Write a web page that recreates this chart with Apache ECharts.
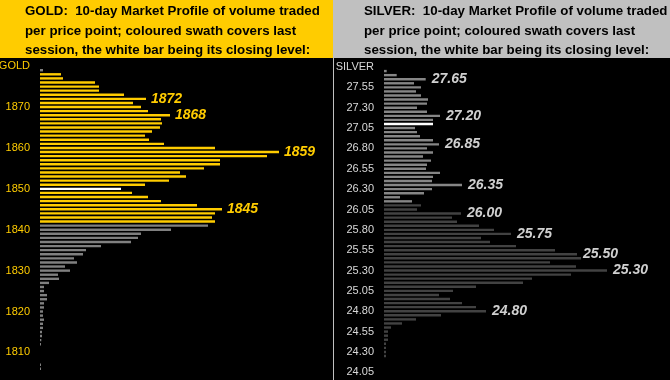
<!DOCTYPE html>
<html>
<head>
<meta charset="utf-8">
<script src="https://cdn.jsdelivr.net/npm/echarts@6/dist/echarts.min.js"></script>
<style>html,body{margin:0;padding:0;background:#000;}#c{width:670px;height:380px;}</style>
</head>
<body>
<div id="c"></div>
<script>
// ---- GOLD: prices from 1881 (top) down to 1804 (bottom), $1 per row ----
var goldTop = 1881;
var goldVolume = [
  0,0,3,21,23,55,59,59,84,106,
  93,101,108,130,121,122,120,112,105,109,
  124,175,239,227,180,180,164,140,146,129,
  105,81,92,108,121,157,182,175,172,175,
  168,131,101,98,91,61,46,43,34,37,
  25,30,18,19,9,4,4,7,7,4,
  4,3,3,4,3,3,2,2,1.3,1,
  0,0,0,0,1,1,0,0
];
var goldSessionHigh = 1878, goldSessionLow = 1842, goldClose = 1850;
var goldMarked = ['1872','1868','1859','1845'];
var goldTitle = ['GOLD:  10-day Market Profile of volume traded','per price point; coloured swath covers last','session, the white bar being its closing level:'];

// ---- SILVER: prices from 27.85 (top) down to 24.00 (bottom), $0.05 per row ----
var silverTopCents = 2785;
var silverVolume = [
  0,0,2.7,12.7,41.7,30,37,32,37,44,
  43,33,43,56,49,49,31,33,36,49,
  55,43,49,39,47,43,42,56,49,48,
  78,48,40,16,28,37,33,77,68,73,
  95,110,127,97,106,132,171,193,197,166,
  192,223,187,148,139,92,69,55,66,78,
  92,102,57,32,18,7,4,4,4,2,
  2,2,2,0,0,0,0,0
];
var silverSessionHigh = 27.75, silverSessionLow = 26.15, silverClose = 27.10;
var silverMarked = ['27.65','27.20','26.85','26.35','26.00','25.75','25.50','25.30','24.80'];
var silverTitle = ['SILVER:  10-day Market Profile of volume traded','per price point; coloured swath covers last','session, the white bar being its closing level:'];

var goldCats = goldVolume.map(function(v,i){ return String(goldTop - i); });
var silverCats = silverVolume.map(function(v,i){ return ((silverTopCents - 5*i)/100).toFixed(2); });

var FONT = 'Liberation Sans, Arial, sans-serif';
var GOLDC = '#FFCC00';

var chart = echarts.init(document.getElementById('c'), null, {renderer:'canvas'});

function titleTexts(lines, x){
  return lines.map(function(t, i){
    return {type:'text', left:x, top: 5 + i*19.5, z:10,
      style:{text:t, font:'bold 13.3px ' + FONT, fill:'#000'}};
  });
}

var graphics = [
  {type:'rect', shape:{x:0,y:0,width:333,height:58}, style:{fill:GOLDC}, z:5},
  {type:'rect', shape:{x:333,y:0,width:337,height:58}, style:{fill:'#C0C0C0'}, z:5},
  {type:'line', shape:{x1:333.5,y1:58,x2:333.5,y2:380}, style:{stroke:'#C0C0C0', lineWidth:1}, z:5}
].concat(titleTexts(goldTitle, 25)).concat(titleTexts(silverTitle, 364));

chart.setOption({
  backgroundColor:'#000',
  animation:false,
  graphic: graphics,
  grid:[
    {left:40, width:293, top:60, bottom:1, containLabel:false, outerBoundsMode:'none'},
    {left:384, width:286, top:60.9, bottom:1.6, containLabel:false, outerBoundsMode:'none'}
  ],
  xAxis:[
    {type:'value', gridIndex:0, min:0, max:293, show:false},
    {type:'value', gridIndex:1, min:0, max:286, show:false}
  ],
  yAxis:[
    {type:'category', gridIndex:0, data:goldCats, inverse:true,
      axisLine:{show:false}, axisTick:{show:false}, splitLine:{show:false},
      axisLabel:{
        interval:function(i, v){ return (+v) % 10 === 0; },
        formatter:function(v){ return v === '1880' ? 'GOLD' : v; },
        color:GOLDC, fontSize:11, fontFamily:FONT, margin:10
      }},
    {type:'category', gridIndex:1, data:silverCats, inverse:true,
      axisLine:{show:false}, axisTick:{show:false}, splitLine:{show:false},
      axisLabel:{
        interval:function(i, v){ return Math.round(+v*100 - 2405) % 25 === 0; },
        formatter:function(v){ return v === '27.80' ? 'SILVER' : v; },
        color:'#D8D8D8', fontSize:11, fontFamily:FONT, margin:10
      }}
  ],
  series:[
    {type:'bar', xAxisIndex:0, yAxisIndex:0, data:goldVolume, barWidth:2.4,
      itemStyle:{color:function(p){
        var pr = +p.name;
        if (pr === goldClose) return '#FFFFFF';
        if (pr >= goldSessionLow && pr <= goldSessionHigh) return GOLDC;
        return '#808080';
      }},
      label:{show:true, position:'right', distance:5,
        formatter:function(p){ return goldMarked.indexOf(p.name) >= 0 ? p.name : ''; },
        color:GOLDC, fontSize:14, fontStyle:'italic', fontWeight:'bold', fontFamily:FONT}
    },
    {type:'bar', xAxisIndex:1, yAxisIndex:1, data:silverVolume, barWidth:2.4,
      itemStyle:{color:function(p){
        var pr = +p.name;
        if (Math.abs(pr - silverClose) < 1e-6) return '#FFFFFF';
        if (pr >= silverSessionLow - 1e-6 && pr <= silverSessionHigh + 1e-6) return '#868686';
        return '#424242';
      }},
      label:{show:true, position:'right', distance:6,
        formatter:function(p){ return silverMarked.indexOf(p.name) >= 0 ? p.name : ''; },
        color:'#D0D0D0', fontSize:14, fontStyle:'italic', fontWeight:'bold', fontFamily:FONT}
    }
  ]
});
</script>
</body>
</html>
